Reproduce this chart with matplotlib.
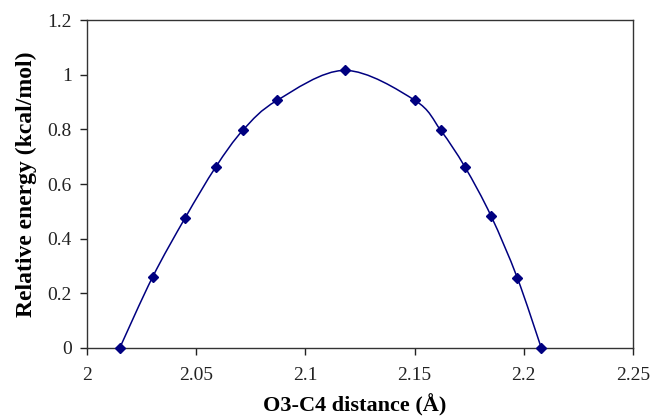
import matplotlib
matplotlib.use("Agg")
from matplotlib import pyplot as plt
from matplotlib.path import Path
from matplotlib.patches import PathPatch
import numpy as np

# O3-C4 distance (angstrom) and relative energy (kcal/mol)
distance = [2.015, 2.030, 2.045, 2.059, 2.0715, 2.087, 2.118,
            2.150, 2.162, 2.173, 2.185, 2.197, 2.208]
energy = [0.0, 0.259, 0.477, 0.663, 0.798, 0.906, 1.016,
          0.907, 0.796, 0.663, 0.483, 0.257, 0.0]

xticks = [2, 2.05, 2.1, 2.15, 2.2, 2.25]
yticks = [0, 0.2, 0.4, 0.6, 0.8, 1, 1.2]
xlabels = ['2', '2.05', '2.1', '2.15', '2.2', '2.25']
ylabels = ['0', '0.2', '0.4', '0.6', '0.8', '1', '1.2']

plt.rcParams['font.family'] = 'Liberation Serif'
navy = '#000080'

fig = plt.figure(figsize=(6.56, 4.19), dpi=100)
ax = fig.add_axes([0.1326, 0.1695, 0.8324, 0.7825])

# smoothed connecting line (Excel style bezier through the points)
x = np.array(distance)
y = np.array(energy)
verts = [(x[0], y[0])]
codes = [Path.MOVETO]
t = 1.0 / 6.0
for i in range(len(x) - 1):
    x0, y0 = (x[i - 1], y[i - 1]) if i > 0 else (x[i], y[i])
    x3, y3 = (x[i + 2], y[i + 2]) if i + 2 < len(x) else (x[i + 1], y[i + 1])
    c1 = (x[i] + (x[i + 1] - x0) * t, y[i] + (y[i + 1] - y0) * t)
    c2 = (x[i + 1] - (x3 - x[i]) * t, y[i + 1] - (y3 - y[i]) * t)
    verts += [c1, c2, (x[i + 1], y[i + 1])]
    codes += [Path.CURVE4, Path.CURVE4, Path.CURVE4]
ax.add_patch(PathPatch(Path(verts, codes), facecolor='none',
                       edgecolor=navy, lw=1.1))

ax.plot(distance, energy, linestyle='none', marker='D', markersize=5.5,
        color=navy, clip_on=False, zorder=3)

ax.set_xlim(2, 2.25)
ax.set_ylim(0, 1.2)
ax.set_xticks(xticks)
ax.set_xticklabels(xlabels)
ax.set_yticks(yticks)
ax.set_yticklabels(ylabels)
ax.tick_params(direction='out', length=5, width=1, labelsize=14,
               pad=6, colors='#222222')
ax.tick_params(axis='x', pad=9)
for s in ax.spines.values():
    s.set_linewidth(1.0)
    s.set_color('#333333')

xl = ax.set_xlabel('O3-C4 distance (Å)', fontsize=16, fontweight='bold',
                   labelpad=7)
xl.set_x(0.49)
ax.set_ylabel('Relative energy (kcal/mol)', fontsize=17, fontweight='bold',
              labelpad=7)

fig.savefig('out.png', dpi=100)
